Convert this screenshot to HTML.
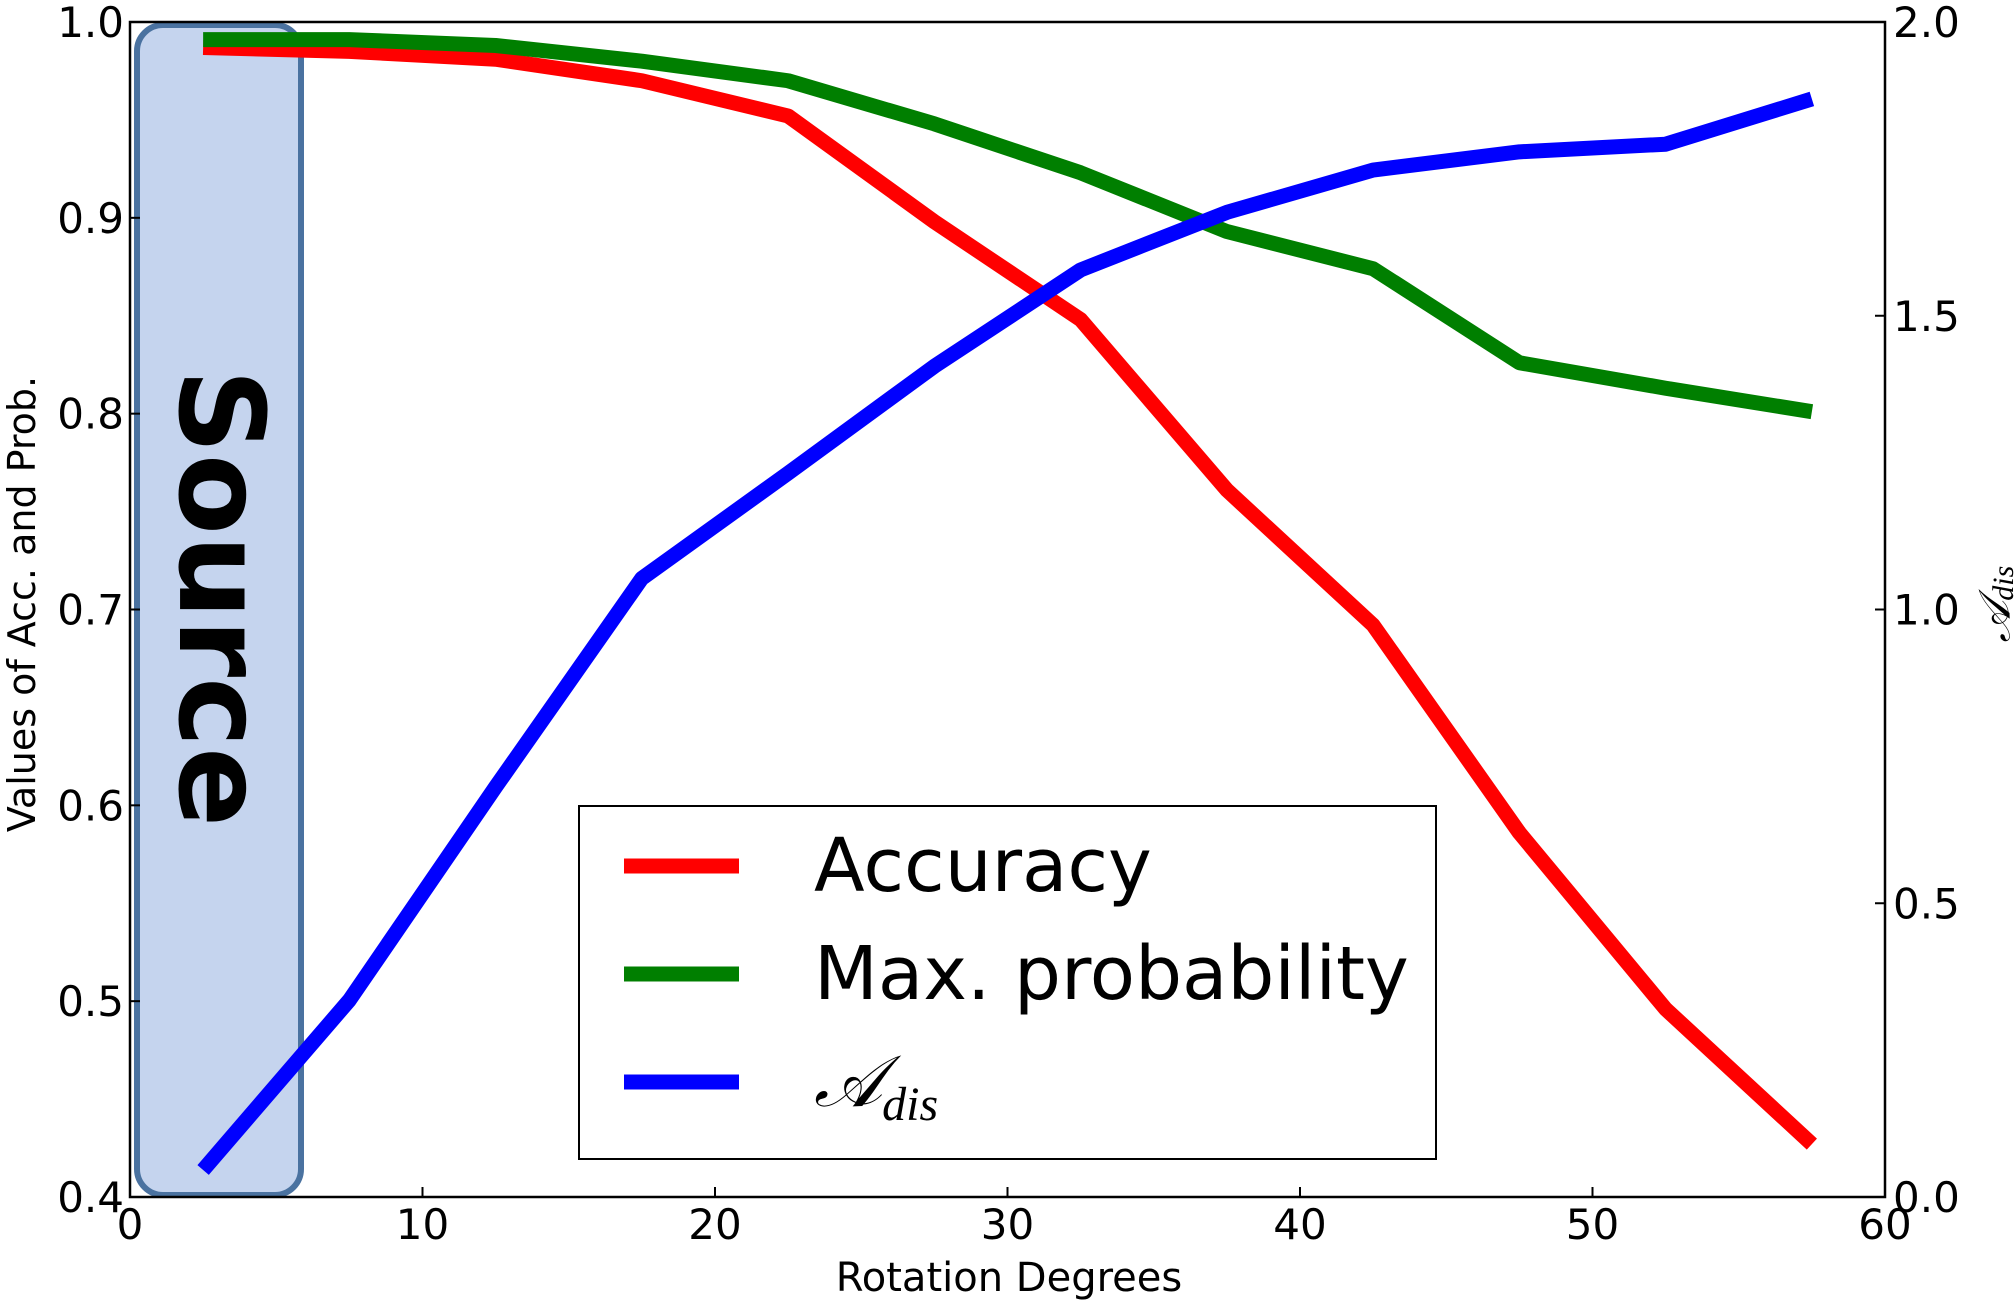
<!DOCTYPE html>
<html><head><meta charset="utf-8"><style>
html,body{margin:0;padding:0;background:#fff;}
svg{display:block;font-family:"DejaVu Sans","Liberation Sans",sans-serif;}
</style></head><body>
<svg id="chart" width="2016" height="1304" viewBox="0 0 2016 1304">
<rect x="137" y="25" width="164" height="1170" rx="26" ry="26" fill="#c5d4ee" stroke="#4a72a0" stroke-width="6"/>
<text transform="translate(221,598) rotate(90)" text-anchor="middle" dominant-baseline="central" font-size="118" font-weight="bold" fill="#000">Source</text>
<g id="series"></g>
<rect x="130" y="22" width="1755" height="1175" fill="none" stroke="#000" stroke-width="2.5"/>
<g id="axes"></g>
<text transform="translate(22,604) rotate(-90)" text-anchor="middle" dominant-baseline="central" font-size="38">Values of Acc. and Prob.</text>
<text x="1009" y="1291" text-anchor="middle" font-size="40">Rotation Degrees</text>
<text transform="translate(1995,604) rotate(-90)" text-anchor="middle" dominant-baseline="central" font-size="44" font-family="Liberation Serif,serif" font-style="italic">𝒜<tspan font-size="30" dy="8">dis</tspan></text>
<g>
<rect x="579" y="806" width="857" height="353" fill="#fff" stroke="#000" stroke-width="2"/>
<line x1="624" y1="866" x2="739" y2="866" stroke="#ff0000" stroke-width="15"/>
<text x="814" y="891" font-size="74">Accuracy</text>
<line x1="624" y1="974" x2="739" y2="974" stroke="#007f00" stroke-width="15"/>
<text x="814" y="999" font-size="74">Max. probability</text>
<line x1="624" y1="1082" x2="739" y2="1082" stroke="#0000ff" stroke-width="15"/>
<text x="814" y="1106" font-size="72" font-family="Liberation Serif,serif" font-style="italic">𝒜<tspan font-size="48" dy="14">dis</tspan></text>
</g>
</svg>
<script>
const degrees=[2.5,7.5,12.5,17.5,22.5,27.5,32.5,37.5,42.5,47.5,52.5,57.5];
const accuracy=[0.987,0.985,0.981,0.970,0.952,0.898,0.848,0.761,0.692,0.586,0.496,0.427];
const maxProb=[0.991,0.991,0.988,0.980,0.970,0.948,0.923,0.893,0.874,0.826,0.813,0.801];
const adis=[0.046,0.335,0.698,1.053,1.232,1.414,1.578,1.676,1.748,1.779,1.792,1.869];
const xTicks=[0,10,20,30,40,50,60];
const yTicks=["0.4","0.5","0.6","0.7","0.8","0.9","1.0"];
const y2Ticks=["0.0","0.5","1.0","1.5","2.0"];
const NS="http://www.w3.org/2000/svg";
const L=130,R=1885,T=22,B=1197;
const xs=v=>L+(v-0)/(60-0)*(R-L);
const ys=v=>B-(v-0.4)/(1.0-0.4)*(B-T);
const y2s=v=>B-(v-0)/(2.0-0)*(B-T);
const series=document.getElementById('series');
function line(vals,sc,color,name){
  const p=document.createElementNS(NS,'polyline');
  p.setAttribute('points',vals.map((v,i)=>xs(degrees[i])+','+sc(v)).join(' '));
  p.setAttribute('fill','none');p.setAttribute('stroke',color);p.setAttribute('stroke-width','15');
  p.setAttribute('stroke-linejoin','round');
  
  
  series.appendChild(p);
}
line(accuracy,ys,'#ff0000','accuracy-line');
line(maxProb,ys,'#007f00','max-probability-line');
line(adis,y2s,'#0000ff','adis-line');
const axes=document.getElementById('axes');
function el(tag,attrs,text){const e=document.createElementNS(NS,tag);for(const k in attrs)e.setAttribute(k,attrs[k]);if(text!==undefined)e.textContent=text;axes.appendChild(e);return e;}
xTicks.forEach(t=>{
  const x=xs(t);
  const tk=el('line',{x1:x,y1:B,x2:x,y2:B-10,stroke:'#000','stroke-width':2});
  
  
  const lb=el('text',{x:x,y:1239,'text-anchor':'middle','font-size':42},String(t));
  
  
});
yTicks.forEach(t=>{
  const y=ys(parseFloat(t));
  const tk=el('line',{x1:L,y1:y,x2:L+10,y2:y,stroke:'#000','stroke-width':2});
  
  
  const lb=el('text',{x:124,y:y+15,'text-anchor':'end','font-size':42},t);
  
  
});
y2Ticks.forEach(t=>{
  const y=y2s(parseFloat(t));
  const tk=el('line',{x1:R,y1:y,x2:R-10,y2:y,stroke:'#000','stroke-width':2});
  
  
  const lb=el('text',{x:1893,y:y+15,'text-anchor':'start','font-size':42},t);
  
  
});
</script>
</body></html>
